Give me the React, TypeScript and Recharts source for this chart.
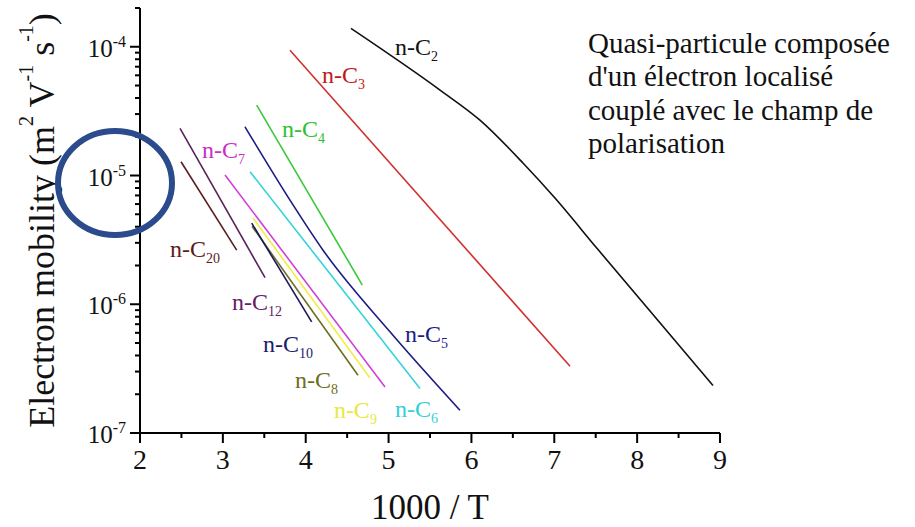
import React from 'react';
import { LineChart, Line, XAxis, YAxis, ReferenceDot } from 'recharts';

// ---------- data (x = 1000/T, y = electron mobility m^2 V^-1 s^-1) ----------
const c2 = [
  { x: 4.546, y: 1.39e-4 },
  { x: 5.621, y: 4.61e-5 },
  { x: 6.103, y: 2.69e-5 },
  { x: 6.622, y: 1.25e-5 },
  { x: 7.008, y: 6.68e-6 },
  { x: 7.515, y: 2.72e-6 },
  { x: 8.915, y: 2.34e-7 },
];
const c3 = [
  { x: 3.81, y: 9.4e-5 },
  { x: 7.19, y: 3.3e-7 },
];
const c4 = [
  { x: 3.408, y: 3.52e-5 },
  { x: 4.683, y: 1.41e-6 },
];
const c5 = [
  { x: 3.267, y: 2.39e-5 },
  { x: 3.81, y: 6.44e-6 },
  { x: 4.209, y: 2.63e-6 },
  { x: 5.017, y: 6.11e-7 },
  { x: 5.862, y: 1.5e-7 },
];
const c6 = [
  { x: 3.328, y: 1.07e-5 },
  { x: 5.379, y: 2.22e-7 },
];
const c7 = [
  { x: 3.026, y: 1.01e-5 },
  { x: 4.957, y: 2.28e-7 },
];
const c8 = [
  { x: 3.352, y: 4.04e-6 },
  { x: 4.631, y: 2.81e-7 },
];
const c9 = [
  { x: 3.364, y: 4.67e-6 },
  { x: 4.776, y: 2.67e-7 },
];
const c10 = [
  { x: 3.348, y: 4.27e-6 },
  { x: 4.072, y: 7.3e-7 },
];
const c12 = [
  { x: 2.483, y: 2.32e-5 },
  { x: 3.509, y: 1.61e-6 },
];
const c20 = [
  { x: 2.495, y: 1.28e-5 },
  { x: 3.167, y: 2.63e-6 },
];

const seriesNames = ['n-C2', 'n-C3', 'n-C4', 'n-C5', 'n-C6', 'n-C7', 'n-C8', 'n-C9', 'n-C10', 'n-C12', 'n-C20'];
const seriesData = [c2, c3, c4, c5, c6, c7, c8, c9, c10, c12, c20];
const seriesColors = ['#111111', '#d03030', '#3cc83c', '#1c1c84', '#33d4d8', '#d040d8', '#6e6e22', '#f0ee44', '#1a1a5a', '#5a225a', '#5a1e1e'];
const labelColors = ['#111111', '#c01818', '#30c030', '#1c1c84', '#30d0d8', '#c830c8', '#6e6e22', '#e8e840', '#1c1c6a', '#642064', '#5e1a1a'];

// label anchors (data coords): left edge / baseline of "n-C"
const labelX = [5.077, 4.196, 3.714, 5.198, 5.077, 2.748, 3.871, 4.34, 3.484, 3.11, 2.362];
const labelY = [8.62e-5, 5.22e-5, 1.99e-5, 5.07e-7, 1.33e-7, 1.365e-5, 2.23e-7, 1.3e-7, 4.25e-7, 9.0e-7, 2.32e-6];

const xMajorTicks = [2, 3, 4, 5, 6, 7, 8, 9];
const xMinorTicks = [2.5, 3.5, 4.5, 5.5, 6.5, 7.5, 8.5];
const yMajorTicks = [1e-7, 1e-6, 1e-5, 1e-4];
const yMinorTicks = [
  2e-7, 3e-7, 4e-7, 5e-7, 6e-7, 7e-7, 8e-7, 9e-7,
  2e-6, 3e-6, 4e-6, 5e-6, 6e-6, 7e-6, 8e-6, 9e-6,
  2e-5, 3e-5, 4e-5, 5e-5, 6e-5, 7e-5, 8e-5, 9e-5,
  2e-4,
];
const yExponents = [-7, -6, -5, -4];

const noteLines = [
  'Quasi-particule composée',
  "d'un électron localisé",
  'couplé avec le champ de',
  'polarisation',
];

const SERIF = '"Liberation Serif", "Times New Roman", "DejaVu Serif", serif';

const YTick = (props: any) => {
  const { x, y, payload } = props;
  const v = payload.value;
  const idx = yMajorTicks.findIndex((t) => Math.abs(t - v) / t < 1e-6);
  const major = idx >= 0;
  return (
    <g>
      <line x1={x} x2={x - (major ? 10 : 5)} y1={y} y2={y} stroke="#000" strokeWidth={2} />
      {major && (
        <text x={x - 14} y={y + 10} textAnchor="end" fontFamily={SERIF} fontSize={25} fill="#111">
          <tspan>10</tspan>
          <tspan dy={-10} fontSize={16}>{String(yExponents[idx])}</tspan>
        </text>
      )}
    </g>
  );
};

const XTick = (props: any) => {
  const { x, y, payload } = props;
  const v = payload.value;
  const major = xMajorTicks.includes(v);
  return (
    <g>
      <line x1={x} x2={x} y1={y} y2={y + (major ? 10 : 5)} stroke="#000" strokeWidth={2} />
      {major && (
        <text x={x} y={y + 36} textAnchor="middle" fontFamily={SERIF} fontSize={28} fill="#111">
          {String(v)}
        </text>
      )}
    </g>
  );
};

const makeLabelShape = (name: string, color: string) => (p: any) => {
  const sub = name.replace('n-C', '');
  return (
    <text x={p.cx} y={p.cy} fontFamily={SERIF} fontSize={24} fill={color}>
      <tspan>n-C</tspan>
      <tspan dy={6} fontSize={14}>{sub}</tspan>
    </text>
  );
};

const YTitle = (props: any) => {
  const vb = props.viewBox || { x: 40, y: 8, width: 100, height: 425 };
  const cx = vb.x + 14;
  const cy = vb.y + vb.height / 2;
  return (
    <text
      transform={`rotate(-90, ${cx}, ${cy})`}
      x={cx}
      y={cy}
      textAnchor="middle"
      fontFamily={SERIF}
      fontSize={36}
      fill="#111"
    >
      <tspan>Electron mobility (m</tspan>
      <tspan dy={-21} fontSize={20}>2</tspan>
      <tspan dy={21}> V</tspan>
      <tspan dy={-21} fontSize={20}>-1</tspan>
      <tspan dy={21}> s</tspan>
      <tspan dy={-21} fontSize={20}>-1</tspan>
      <tspan dy={21}>)</tspan>
    </text>
  );
};

const XTitle = (props: any) => {
  const vb = props.viewBox || { x: 140, y: 433, width: 580, height: 60 };
  return (
    <text x={vb.x + vb.width / 2} y={vb.y + 86} textAnchor="middle" fontFamily={SERIF} fontSize={35} fill="#111">
      1000 / T
    </text>
  );
};

export default function App() {
  return (
    <div style={{ position: 'absolute', left: 0, top: 0, width: 915, height: 527, background: '#fff' }}>
      <LineChart
        width={915}
        height={527}
        margin={{ top: 8, right: 195, left: 40, bottom: 34 }}
      >
        <XAxis
          type="number"
          dataKey="x"
          domain={[2, 9]}
          ticks={[...xMajorTicks, ...xMinorTicks]}
          interval={0}
          allowDataOverflow
          height={60}
          tickLine={false}
          tickSize={0}
          tickMargin={0}
          axisLine={{ stroke: '#000', strokeWidth: 2 }}
          tick={<XTick />}
          label={{ content: <XTitle /> } as any}
        />
        <YAxis
          type="number"
          dataKey="y"
          scale="log"
          domain={[1e-7, 2e-4]}
          ticks={[...yMajorTicks, ...yMinorTicks]}
          interval={0}
          allowDataOverflow
          width={100}
          tickLine={false}
          tickSize={0}
          tickMargin={0}
          axisLine={{ stroke: '#000', strokeWidth: 2 }}
          tick={<YTick />}
          label={{ content: <YTitle /> } as any}
        />
        {seriesData.map((d, i) => (
          <Line
            key={seriesNames[i]}
            data={d}
            dataKey="y"
            type={i === 0 || i === 3 ? 'monotone' : 'linear'}
            stroke={seriesColors[i]}
            strokeWidth={1.6}
            dot={false}
            activeDot={false}
            isAnimationActive={false}
          />
        ))}
        {seriesNames.map((n, i) => (
          <ReferenceDot
            key={'lbl' + n}
            x={labelX[i]}
            y={labelY[i]}
            r={1}
            ifOverflow="visible"
            shape={makeLabelShape(n, labelColors[i])}
          />
        ))}
      </LineChart>
      <svg
        width={915}
        height={527}
        style={{ position: 'absolute', left: 0, top: 0, pointerEvents: 'none' }}
      >
        <ellipse cx={115} cy={183} rx={57} ry={52} fill="none" stroke="#2c4b8c" strokeWidth={6} />
        {noteLines.map((t, i) => (
          <text key={i} x={588} y={53 + i * 33.4} fontFamily={SERIF} fontSize={29} fill="#111">
            {t}
          </text>
        ))}
      </svg>
    </div>
  );
}
